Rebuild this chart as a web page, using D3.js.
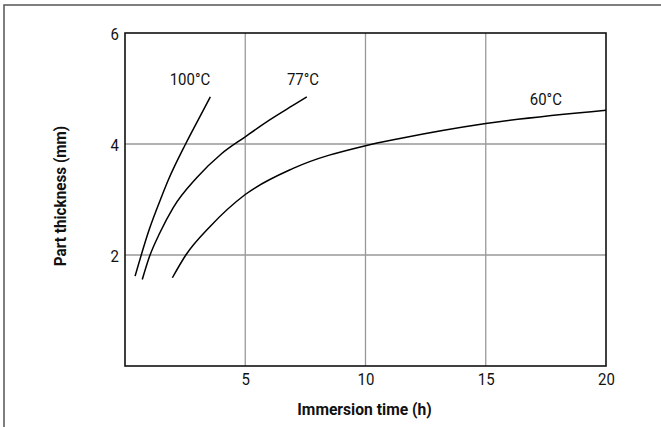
<!DOCTYPE html>
<html><head><meta charset="utf-8">
<script src="https://cdn.jsdelivr.net/npm/d3@7"></script>
<style>
html,body{margin:0;padding:0;background:#fff;}
svg{display:block;}
text{font-family:"Roboto","Liberation Sans",sans-serif;fill:#111;}
</style></head><body>
<svg id="c" width="661" height="427"></svg>
<script>
const xTicks = [5, 10, 15, 20];
const yTicks = [2, 4, 6];
const seriesNames = ["100°C", "77°C", "60°C"];
const s100x = [0.42, 1.0, 1.52, 1.8, 2.52, 3.0, 3.55];
const s100y = [1.62, 2.45, 3.05, 3.35, 4.0, 4.4, 4.85];
const s77x = [0.72, 1.0, 1.45, 2.0, 3.0, 4.0, 5.0, 6.0, 7.0, 7.56];
const s77y = [1.56, 1.95, 2.4, 2.85, 3.4, 3.82, 4.13, 4.43, 4.7, 4.85];
const s60x = [1.97, 2.53, 3.53, 5.0, 6.99, 10.0, 11.43, 15.0, 20.0];
const s60y = [1.59, 2.0, 2.51, 3.09, 3.56, 3.97, 4.10, 4.37, 4.61];
const labelX = [2.7, 7.4, 17.5];
const labelY = [5.07, 5.07, 4.7];

const SX = 0.88; // condensed look
const svg = d3.select("#c");
const m = {l:125, r:606, t:33, b:366};
const x = d3.scaleLinear().domain([0,20]).range([m.l, m.r]);
const y = d3.scaleLinear().domain([0,6]).range([m.b, m.t]);

// outer border (top and left)
svg.append("path").attr("d", `M4,427 L4,5 L661,5`).attr("fill","none").attr("stroke","#555").attr("stroke-width",1.5);

// grid
const g = svg.append("g");
g.selectAll(".vx").data(xTicks.filter(d=>d<20)).join("line")
  .attr("x1",d=>x(d)).attr("x2",d=>x(d)).attr("y1",m.t).attr("y2",m.b)
  .attr("stroke","#999").attr("stroke-width",1.3);
g.selectAll(".hy").data(yTicks.filter(d=>d<6)).join("line")
  .attr("x1",m.l).attr("x2",m.r).attr("y1",d=>y(d)).attr("y2",d=>y(d))
  .attr("stroke","#999").attr("stroke-width",1.3);

// axes
const xa = svg.append("g").attr("transform",`translate(0,${m.b})`)
  .call(d3.axisBottom(x).tickValues(xTicks).tickFormat(d3.format("d")).tickSize(0).tickPadding(7));
const ya = svg.append("g").attr("transform",`translate(${m.l},0)`)
  .call(d3.axisLeft(y).tickValues(yTicks).tickFormat(d3.format("d")).tickSize(0).tickPadding(7));
[xa, ya].forEach(a=>{a.select(".domain").remove(); a.selectAll("text").attr("font-size",17).attr("fill","#111")
  .style("font-family",'"Roboto",sans-serif').attr("transform",`scale(${SX},1)`);});
ya.selectAll("text").attr("dy","0.36em");

// frame
svg.append("rect").attr("x",m.l).attr("y",m.t).attr("width",m.r-m.l).attr("height",m.b-m.t)
  .attr("fill","none").attr("stroke","#111").attr("stroke-width",1.6);

// curves
const line = d3.line().x(d=>x(d[0])).y(d=>y(d[1])).curve(d3.curveMonotoneX);
const series = [d3.zip(s100x,s100y), d3.zip(s77x,s77y), d3.zip(s60x,s60y)];
svg.selectAll(".curve").data(series).join("path")
  .attr("d", line).attr("fill","none").attr("stroke","#000").attr("stroke-width",1.5);

// curve labels
svg.selectAll(".lab").data(seriesNames).join("text")
  .attr("transform",(d,i)=>`translate(${x(labelX[i])},${y(labelY[i])}) scale(${SX},1)`)
  .attr("text-anchor","middle").attr("font-size",17).text(d=>d);

// axis titles
svg.append("text").attr("transform",`translate(364.5,415) scale(0.92,1)`).attr("text-anchor","middle")
  .attr("font-size",17).attr("font-weight","bold").text("Immersion time (h)");
svg.append("text").attr("transform",`translate(66,196) rotate(-90) scale(0.9,1)`).attr("text-anchor","middle")
  .attr("font-size",17).attr("font-weight","bold").text("Part thickness (mm)");
</script></body></html>
